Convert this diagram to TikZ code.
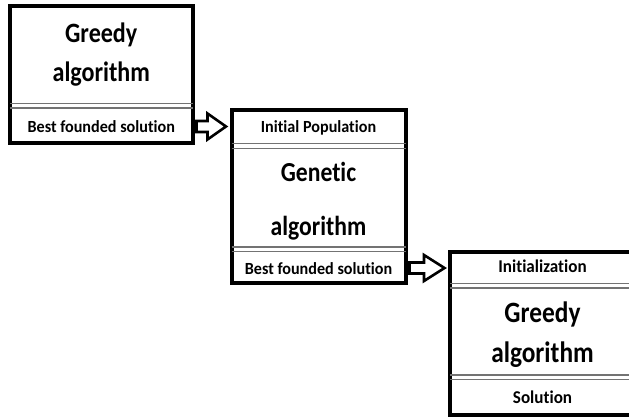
\documentclass[tikz,border=0pt]{standalone}
\usepackage{fontspec}
\setmainfont{Carlito}[Ligatures={NoCommon,NoContextual}]
\newfontfamily\smallf{Carlito}[FakeStretch=0.95,Ligatures={NoCommon,NoContextual}]
\newfontfamily\bigf{Carlito}[FakeStretch=0.86,Ligatures={NoCommon,NoContextual}]
\usetikzlibrary{calc}
\begin{document}
\begin{tikzpicture}[x=1pt,y=-1pt,
  box/.style={draw=black,line width=4pt,fill=white,rectangle,inner sep=0pt},
  sepline/.style={draw=black!55,line width=1.1pt},
  smalltxt/.style={anchor=base,inner sep=0pt,font=\smallf\fontsize{17}{20}\selectfont\bfseries},
  bigtxt/.style={anchor=base,inner sep=0pt,font=\bigf\fontsize{28}{33}\selectfont\bfseries},
  barrow/.style={draw=black,line width=2.6pt,fill=white,line join=miter}]
\useasboundingbox (0,0) rectangle (629,417);
% boxes
\node[box,minimum width=182.5pt,minimum height=136.5pt] (b1) at (101.25,74.75) {};
\node[box,minimum width=174pt,minimum height=172.5pt] (b2) at (318.5,196.75) {};
\node[box,minimum width=195pt,minimum height=163.5pt] (b3) at (547.5,333.25) {};
% separators
\foreach \b/\y in {b1/103.5,b1/108,b2/143.5,b2/148.5,b2/247,b2/251.5,b3/283.5,b3/288,b3/375,b3/379.3}{
  \draw[sepline] ([xshift=2pt]\b.west |- 0,\y) -- ([xshift=-2pt]\b.east |- 0,\y);
}
% texts
\node[bigtxt] (g1) at (101.25,43) {Greedy};
\node[bigtxt] (a1) at (101.25,82) {algorithm};
\node[smalltxt] (s1) at (101.25,132) {Best founded solution};
\node[smalltxt] (i2) at (318.5,133) {Initial Population};
\node[bigtxt,font=\bigf\fontsize{27.5}{33}\selectfont\bfseries] (g2) at (318.5,182) {Genetic};
\node[bigtxt,font=\bigf\fontsize{27.5}{33}\selectfont\bfseries] (a2) at (318.5,235) {algorithm};
\node[smalltxt] (s2) at (318.5,274) {Best founded solution};
\node[smalltxt,font=\smallf\fontsize{18}{21}\selectfont\bfseries] (i3) at (542.5,272) {Initialization};
\node[bigtxt,font=\bigf\fontsize{29.5}{34}\selectfont\bfseries] (g3) at (542.5,322) {Greedy};
\node[bigtxt,font=\bigf\fontsize{29.5}{34}\selectfont\bfseries] (a3) at (542.5,362) {algorithm};
\node[smalltxt,font=\smallf\fontsize{18}{21}\selectfont\bfseries] (s3) at (542.5,403) {Solution};
% block arrows
\draw[barrow] let \p1=($(b1.east|-0,126.5)$), \p2=($(b2.west|-0,126.5)$) in
  (\x1+2,\y1+5.5) -- (\x2-22,\y1+5.5) -- (\x2-22,\y1+13) -- (\x2-3.5,\y1) -- (\x2-22,\y1-13) -- (\x2-22,\y1-5.5) -- (\x1+2,\y1-5.5) -- cycle;
\draw[barrow] let \p1=($(b2.east|-0,268)$), \p2=($(b3.west|-0,268)$) in
  (\x1+2,\y1+5.5) -- (\x2-24,\y1+5.5) -- (\x2-24,\y1+13) -- (\x2-3.5,\y1) -- (\x2-24,\y1-13) -- (\x2-24,\y1-5.5) -- (\x1+2,\y1-5.5) -- cycle;
\end{tikzpicture}
\end{document}
